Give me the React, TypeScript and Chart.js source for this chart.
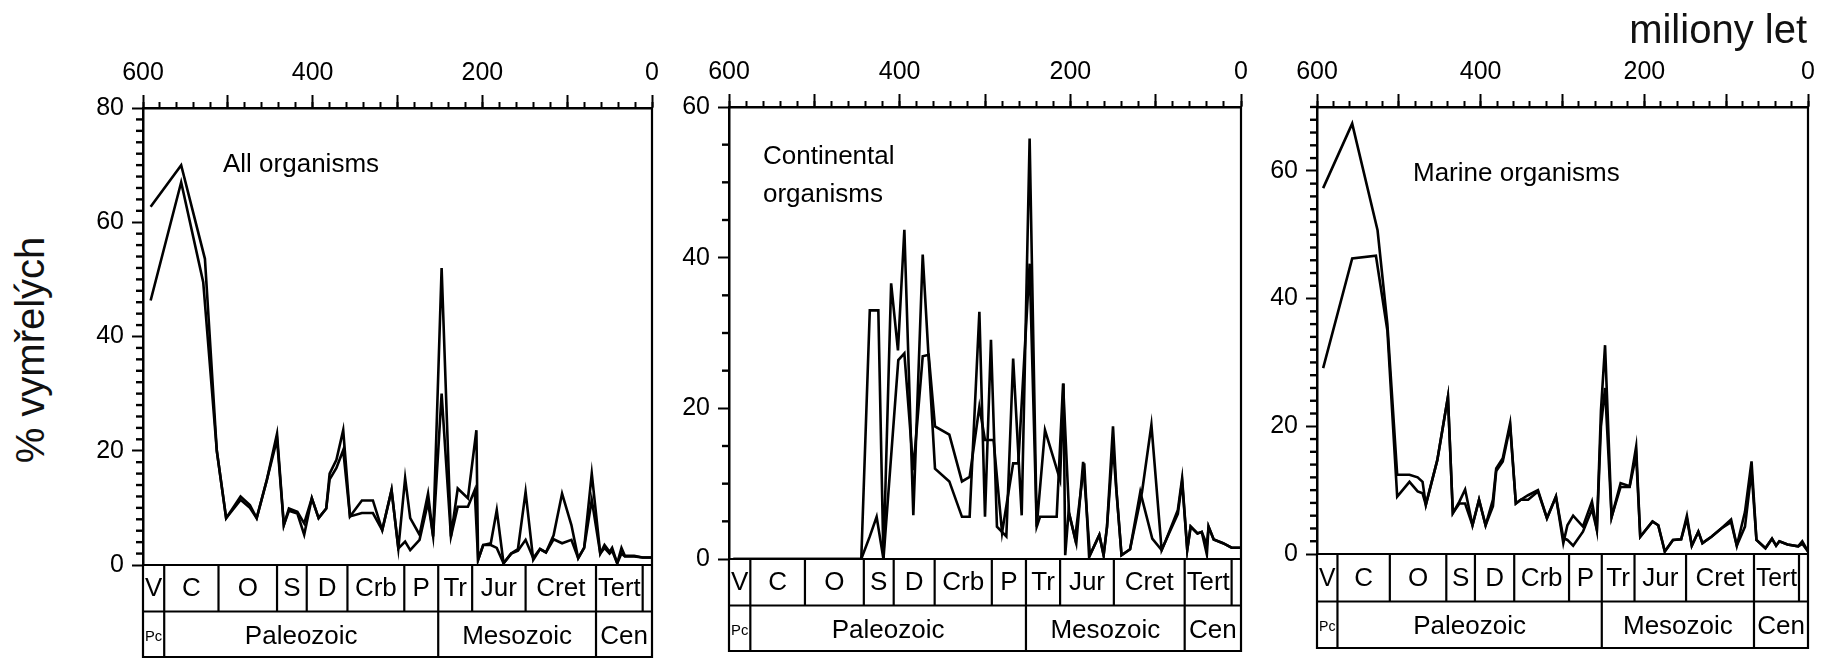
import React, { useEffect, useRef } from "react";
import { Chart, registerables } from "chart.js";

Chart.register(...registerables);

const FONT = "'Liberation Sans', Arial, Helvetica, sans-serif";

// ---------- shared axis / time-scale data ----------
const xTickLabels = [600, 400, 200, 0];
const yLabelStep = 20;
const periodBounds = [600, 575, 511, 442, 407, 359, 292, 252, 212, 149, 66, 11, 0];
const periodNames = ["V", "C", "O", "S", "D", "Crb", "P", "Tr", "Jur", "Cret", "Tert", ""];
const eraBounds = [600, 575, 252, 66, 0];
const eraNames = ["Pc", "Paleozoic", "Mesozoic", "Cen"];

// ---------- All organisms ----------
const allUpperAges = [591, 555, 527, 513, 502, 485, 474, 466, 454, 442, 434, 428, 418, 410, 401, 393, 384, 380, 372, 364, 356, 342, 329, 318, 307, 299, 291, 285, 274, 264, 258, 248, 237, 229, 217, 207, 205, 199, 190, 183, 175, 166, 158, 149, 140, 132, 125, 116, 106, 95, 87, 80, 71, 61, 56, 50, 47, 41, 36, 32, 21, 11, 0];
const allUpperVals = [62.7, 70, 53.6, 20, 8.2, 12, 10.5, 8.2, 14.9, 23, 7, 9.9, 9.3, 7.3, 11.7, 8.2, 9.9, 16, 18.4, 23.6, 8.5, 11.3, 11.3, 6.1, 13.1, 2.9, 15.2, 8.2, 5.3, 12.5, 5, 52, 5, 13.4, 11.7, 23.6, 0.9, 3.5, 3.8, 9.6, 0.3, 2, 2.8, 12.8, 0.9, 2.8, 2.2, 5.2, 12.5, 7, 1.2, 3, 16, 2, 3.5, 2.3, 3, 0.3, 3, 1.6, 1.6, 1.3, 1.3];
const allLowerAges = [591, 555, 529, 513, 502, 485, 474, 466, 454, 442, 434, 428, 418, 410, 401, 393, 384, 380, 372, 364, 356, 342, 329, 318, 307, 299, 291, 285, 274, 264, 258, 248, 237, 229, 217, 209, 205, 199, 190, 183, 175, 166, 158, 149, 140, 132, 125, 116, 106, 95, 87, 80, 71, 61, 56, 50, 47, 41, 36, 32, 21, 11, 0];
const allLowerVals = [46.3, 67, 49.5, 20, 8.2, 11.4, 10, 8.2, 14.9, 22, 7, 9.5, 9, 5.3, 11.7, 8.2, 9.9, 15, 17, 20.1, 8.5, 9.1, 9.1, 6.1, 13.1, 2.9, 4.1, 2.6, 4.4, 11, 5, 30, 5, 10.2, 10.2, 13.1, 0.9, 3.5, 3.5, 3, 0.3, 2, 2.5, 4.4, 1.2, 2.8, 2.2, 4.5, 3.8, 4.4, 1.2, 3, 11.4, 2, 3, 2, 2.5, 0.3, 2, 1.5, 1.5, 1.3, 1.3];

// ---------- Continental organisms ----------
const contUpperAges = [595, 445, 435, 425, 419, 410, 402, 394.5, 384, 373, 358.6, 341.8, 327, 318, 306.6, 300, 293, 286, 275, 267, 257, 247.7, 239.4, 229.7, 212, 208, 206, 202, 193, 185, 177, 166, 161, 157, 150, 146, 140, 130, 116, 105, 93, 88, 74, 69, 63, 59, 51, 46, 40, 38, 32, 21, 11, 0];
const contUpperVals = [0, 0, 33, 33, 0, 36.6, 27.7, 43.7, 5.8, 40.4, 12, 10.3, 5.6, 5.6, 32.8, 5.6, 29.1, 4.3, 3, 26.6, 5.8, 55.8, 4.3, 17.1, 10.5, 23.3, 0.5, 6.3, 2.1, 12.9, 0.5, 3.2, 0.5, 4.3, 17.6, 9.2, 0.5, 1.3, 8.9, 17.8, 1.2, 2.5, 6.5, 10.7, 1.2, 4.3, 3.4, 3.6, 0.6, 4.3, 2.6, 2.1, 1.5, 1.5];
const contLowerAges = [595, 445, 435, 427, 419, 401.6, 394.5, 384, 373, 366, 358.6, 341.8, 327, 318, 306.6, 300, 290, 280, 267, 261, 255, 247.7, 239.4, 235.5, 216, 208.5, 201.5, 194.5, 183.7, 178, 166, 161, 157, 150, 146, 140, 130, 118, 104, 93, 88, 74, 69, 63, 59, 51, 46, 40, 38, 32, 21, 11, 0];
const contLowerVals = [0, 0, 3, 5.6, 0, 26.4, 27.3, 11.8, 26.9, 27.1, 17.6, 16.5, 10.3, 10.9, 20.2, 15.8, 15.8, 3.5, 12.7, 12.7, 24.6, 39.2, 4.3, 5.6, 5.6, 23.3, 6.1, 2.7, 12.7, 0.3, 3.2, 0.5, 4.3, 15, 9, 0.5, 1.3, 8.9, 2.7, 1.2, 2.5, 6, 10.3, 1.2, 4.3, 3.4, 3.6, 1.9, 4.3, 2.6, 2.1, 1.5, 1.5];

// ---------- Marine organisms ----------
const marUpperAges = [592.5, 557, 526, 514, 502, 487, 477, 471, 467, 453, 440, 434, 426, 419, 410, 402, 394, 385, 381, 373, 364, 357, 351, 342, 330, 319, 308, 299, 294, 287, 275, 264, 258, 253, 248, 240, 229, 218, 210, 205, 190, 183, 175, 165, 155, 148, 142, 134, 129, 118, 106, 94, 87, 77, 69, 63, 52, 44, 39, 35, 25, 12, 7, 0];
const marUpperVals = [57.3, 67.4, 50.7, 36, 12.4, 12.4, 12, 11.3, 7.7, 14.7, 24.6, 6.4, 8.2, 10.1, 4.5, 8.5, 4.5, 8.5, 13.4, 15, 20.5, 7.9, 8.5, 9.2, 10, 5.6, 9, 1.7, 4.5, 6, 4.3, 8.2, 3.8, 22.5, 32.7, 5.8, 11.1, 10.6, 16.8, 2.7, 5.1, 4.5, 0.4, 2.2, 2.3, 6, 1.3, 3.5, 1.7, 2.7, 4, 5.4, 1.3, 6.6, 14.5, 2.2, 0.9, 2.4, 1.3, 2, 1.5, 1.2, 2, 0.4];
const marLowerAges = [592.5, 557, 528, 514, 502, 487, 477, 471, 467, 453, 440, 434, 426, 419, 410, 402, 394, 385, 381, 373, 364, 357, 351, 342, 330, 319, 308, 299, 294, 287, 275, 264, 258, 253, 248, 240, 229, 218, 210, 205, 190, 183, 175, 165, 155, 148, 142, 134, 129, 118, 106, 94, 87, 77, 69, 63, 52, 44, 39, 35, 25, 12, 7, 0];
const marLowerVals = [29.1, 46.3, 46.7, 35, 9, 11.3, 9.8, 9.5, 7.7, 14.7, 24.6, 6.4, 7.9, 7.9, 4.5, 8.5, 4.5, 7.5, 13, 14.5, 20, 7.9, 8.5, 8.5, 9.8, 5.6, 9, 2.5, 2.2, 1.3, 3.5, 7, 3.8, 20, 26, 5.8, 10.5, 10.5, 15.5, 2.7, 5.1, 4.5, 0.4, 2.2, 2.3, 5.5, 1.3, 3.5, 1.7, 2.7, 4, 5, 1.3, 4.3, 13, 2.2, 0.9, 2.4, 1.3, 2, 1.5, 1.2, 1.6, 0.4];

const AXIS_W = 70;
const PAD_R = 12;
const H = 659;

type PanelCfg = {
  id: string;
  plotLeft: number;
  plotRight: number;
  plotTop: number;
  zeroY: number;
  rowH: number;
  yMax: number;
  yMinor: number;
  upperAges: number[];
  upperVals: number[];
  lowerAges: number[];
  lowerVals: number[];
};

const panels: PanelCfg[] = [
  { id: "all", plotLeft: 143, plotRight: 652, plotTop: 108, zeroY: 565, rowH: 46.5, yMax: 80, yMinor: 2,
    upperAges: allUpperAges, upperVals: allUpperVals, lowerAges: allLowerAges, lowerVals: allLowerVals },
  { id: "cont", plotLeft: 729, plotRight: 1241, plotTop: 107, zeroY: 559, rowH: 46.5, yMax: 60, yMinor: 5,
    upperAges: contUpperAges, upperVals: contUpperVals, lowerAges: contLowerAges, lowerVals: contLowerVals },
  { id: "mar", plotLeft: 1317, plotRight: 1808, plotTop: 107, zeroY: 554, rowH: 47.5, yMax: 70, yMinor: 2,
    upperAges: marUpperAges, upperVals: marUpperVals, lowerAges: marLowerAges, lowerVals: marLowerVals },
];

function makeGeoPlugin(cfg: PanelCfg) {
  return {
    id: "geoBoxes_" + cfg.id,
    afterDraw(chart: any) {
      const { ctx, chartArea } = chart;
      const xs = chart.scales.x;
      const ys = chart.scales.y;
      const rowH = cfg.rowH;
      const top = chartArea.bottom;
      const left = xs.getPixelForValue(600);
      const right = xs.getPixelForValue(0);
      ctx.save();
      ctx.strokeStyle = "#000";
      const line = (x1: number, y1: number, x2: number, y2: number) => {
        ctx.beginPath();
        ctx.moveTo(x1, y1);
        ctx.lineTo(x2, y2);
        ctx.stroke();
      };
      // minor y ticks taken from the y scale
      ctx.lineWidth = 2.4;
      const nMinor = Math.round(cfg.yMax / cfg.yMinor);
      for (let k = 1; k <= nMinor; k++) {
        const v = k * cfg.yMinor;
        if (v % yLabelStep === 0) continue;
        const py = ys.getPixelForValue(v);
        line(chartArea.left - 7, py, chartArea.left, py);
      }
      ctx.lineWidth = 2.2;
      // right border of plot
      line(right, chartArea.top, right, top);
      // box outline
      line(left, top, right, top);
      line(left, top + rowH, right, top + rowH);
      line(left, top + 2 * rowH - 1, right, top + 2 * rowH - 1);
      line(left, top, left, top + 2 * rowH);
      line(right, top, right, top + 2 * rowH);
      for (let i = 1; i < periodBounds.length - 1; i++) {
        const px = xs.getPixelForValue(periodBounds[i]);
        line(px, top, px, top + rowH);
      }
      for (let i = 1; i < eraBounds.length - 1; i++) {
        const px = xs.getPixelForValue(eraBounds[i]);
        line(px, top + rowH, px, top + 2 * rowH);
      }
      ctx.fillStyle = "#000";
      ctx.textAlign = "center";
      ctx.textBaseline = "middle";
      ctx.font = `26px ${FONT}`;
      for (let i = 0; i < periodNames.length; i++) {
        const a = xs.getPixelForValue(periodBounds[i]);
        const b = xs.getPixelForValue(periodBounds[i + 1]);
        if (!periodNames[i]) continue;
        ctx.fillText(periodNames[i], (a + b) / 2, top + rowH / 2 + 1, Math.abs(b - a) - 4);
      }
      for (let i = 0; i < eraNames.length; i++) {
        const a = xs.getPixelForValue(eraBounds[i]);
        const b = xs.getPixelForValue(eraBounds[i + 1]);
        ctx.font = i === 0 ? `15px ${FONT}` : `26px ${FONT}`;
        ctx.fillText(eraNames[i], (a + b) / 2, top + rowH * 1.5 + 2, Math.abs(b - a) - 4);
      }
      ctx.restore();
    },
  };
}

function Panel({ cfg }: { cfg: PanelCfg }) {
  const ref = useRef<HTMLCanvasElement>(null);
  const w = cfg.plotRight - cfg.plotLeft + AXIS_W + PAD_R;
  useEffect(() => {
    const toPts = (ages: number[], vals: number[]) => ages.map((a, i) => ({ x: a, y: vals[i] }));
    const chart = new Chart(ref.current as HTMLCanvasElement, {
      type: "line",
      data: {
        datasets: [
          { data: toPts(cfg.upperAges, cfg.upperVals), borderColor: "#000", borderWidth: 2.6, pointRadius: 0, tension: 0, fill: false },
          { data: toPts(cfg.lowerAges, cfg.lowerVals), borderColor: "#000", borderWidth: 2.6, pointRadius: 0, tension: 0, fill: false },
        ],
      },
      options: {
        animation: false,
        responsive: false,
        devicePixelRatio: 1,
        layout: { padding: { left: 0, top: 0, right: PAD_R, bottom: H - cfg.zeroY } },
        plugins: { legend: { display: false }, tooltip: { enabled: false } },
        scales: {
          x: {
            type: "linear", position: "top", reverse: true, min: 0, max: 600, weight: 1,
            ticks: {
              stepSize: 100, autoSkip: false, maxRotation: 0, color: "#000", padding: 7,
              font: { size: 25, family: FONT },
              callback: (v: any) => (xTickLabels.includes(Number(v)) ? String(v) : ""),
            },
            grid: { drawOnChartArea: false, drawTicks: true, tickLength: 13, tickWidth: 2, tickColor: "#000" },
            border: { display: true, color: "#000", width: 2.5 },
            afterFit: (s: any) => { s.height = cfg.plotTop; s.paddingLeft = 0; s.paddingRight = 0; },
          },
          x2: {
            type: "linear", position: "top", reverse: true, min: 0, max: 600, weight: 0,
            ticks: { stepSize: 20, display: false },
            grid: { drawOnChartArea: false, drawTicks: true, tickLength: 6, tickWidth: 2, tickColor: "#000" },
            border: { display: false },
            afterFit: (s: any) => { s.height = 0; s.paddingLeft = 0; s.paddingRight = 0; },
          },
          y: {
            type: "linear", position: "left", min: 0, max: cfg.yMax,
            ticks: { stepSize: yLabelStep, autoSkip: false, color: "#000", padding: 8, font: { size: 25, family: FONT } },
            afterBuildTicks: (s: any) => { s.ticks = s.ticks.filter((t: any) => t.value % yLabelStep === 0); },
            grid: { drawOnChartArea: false, drawTicks: true, tickLength: 11, tickWidth: 2, tickColor: "#000" },
            border: { display: true, color: "#000", width: 2.5 },
            afterFit: (s: any) => { s.width = AXIS_W; s.paddingTop = 0; s.paddingBottom = 0; },
          },
        } as any,
      },
      plugins: [makeGeoPlugin(cfg)],
    });
    return () => chart.destroy();
  }, []);
  return (
    <canvas
      ref={ref}
      width={w}
      height={H}
      style={{ position: "absolute", left: cfg.plotLeft - AXIS_W, top: 0, width: w, height: H }}
    />
  );
}

const titleStyle: React.CSSProperties = {
  position: "absolute",
  fontFamily: FONT,
  fontSize: 26,
  color: "#000",
  whiteSpace: "nowrap",
};

export default function App() {
  return (
    <div style={{ position: "absolute", left: 0, top: 0, width: 1823, height: H, background: "#fff", overflow: "hidden" }}>
      {panels.map((p) => (
        <Panel key={p.id} cfg={p} />
      ))}
      <div style={{ ...titleStyle, left: 223, top: 148, lineHeight: "30px" }}>All organisms</div>
      <div style={{ ...titleStyle, left: 763, top: 136, lineHeight: "38px" }}>
        Continental
        <br />
        organisms
      </div>
      <div style={{ ...titleStyle, left: 1413, top: 157, lineHeight: "30px" }}>Marine organisms</div>
      <div
        style={{
          position: "absolute", right: 16, top: 6, fontFamily: FONT, fontSize: 40, lineHeight: "46px",
          color: "#111", whiteSpace: "nowrap",
        }}
      >
        miliony let
      </div>
      <div
        style={{
          position: "absolute", left: 30, top: 350, fontFamily: FONT, fontSize: 40, lineHeight: "46px",
          color: "#111", whiteSpace: "nowrap", transform: "translate(-50%, -50%) rotate(-90deg)",
        }}
      >
        % vymřelých
      </div>
    </div>
  );
}
